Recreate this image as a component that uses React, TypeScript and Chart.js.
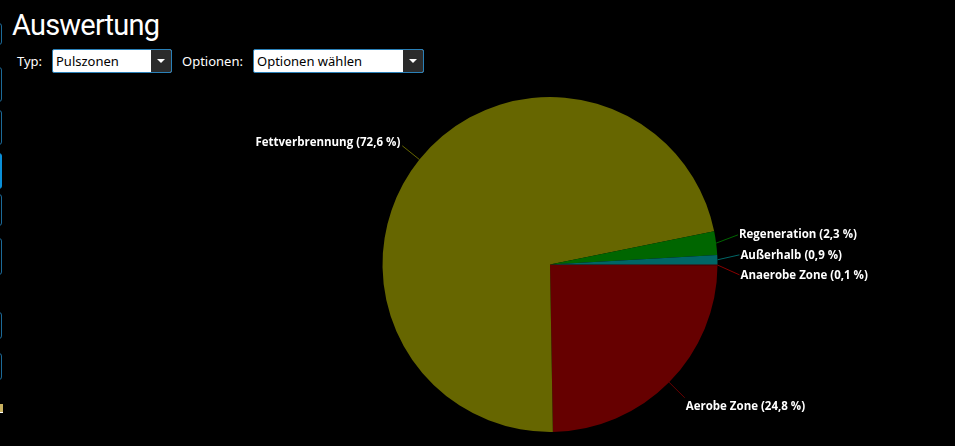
import React, { useEffect, useRef } from "react";
import { Chart, registerables } from "chart.js";

Chart.register(...registerables);

const zoneLabels = ["Anaerobe Zone", "Aerobe Zone", "Fettverbrennung", "Regeneration", "Außerhalb"];
const zoneValues = [0.1, 24.8, 72.6, 2.3, 0.9];
const zoneColors = ["#880000", "#660000", "#666600", "#006600", "#006666"];
const sideButtons = [
  { top: 23, h: 20, active: false },
  { top: 67, h: 33, active: false },
  { top: 110, h: 33, active: false },
  { top: 153, h: 34, active: true },
  { top: 194, h: 30, active: false },
  { top: 238, h: 35, active: false },
  { top: 312, h: 25, active: false },
  { top: 353, h: 25, active: false },
];

const fmt = (v: number) => v.toFixed(1).replace(".", ",") + " %";

const labelPlugin = {
  id: "pieLabels",
  afterDatasetsDraw(chart: any) {
    const ctx = chart.ctx;
    const meta = chart.getDatasetMeta(0);
    const items: any[] = [];
    meta.data.forEach((arc: any, i: number) => {
      const p = arc.getProps(["x", "y", "startAngle", "endAngle", "outerRadius"], true);
      const mid = (p.startAngle + p.endAngle) / 2;
      const c = Math.cos(mid), s = Math.sin(mid);
      const ex = p.x + p.outerRadius * c, ey = p.y + p.outerRadius * s;
      const r2 = p.outerRadius + 22;
      items.push({
        i, c, s, ex, ey,
        ax: p.x + r2 * c,
        ay: p.y + r2 * s,
        right: c >= 0,
      });
    });
    [true, false].forEach((side) => {
      const group = items.filter((it) => it.right === side).sort((a, b) => a.ay - b.ay);
      for (let k = 0; k < 200; k++) {
        for (let j = 0; j < group.length - 1; j++) {
          const gap = group[j + 1].ay - group[j].ay;
          if (gap < 20) {
            const d = (20 - gap) / 2;
            group[j].ay -= d;
            group[j + 1].ay += d;
          }
        }
      }
    });
    ctx.save();
    ctx.font = "bold 11.5px 'Open Sans'";
    ctx.textBaseline = "middle";
    items.forEach((it) => {
      ctx.strokeStyle = zoneColors[it.i];
      ctx.lineWidth = 1;
      ctx.beginPath();
      ctx.moveTo(it.ex, it.ey);
      ctx.lineTo(it.ax, it.ay);
      ctx.stroke();
      ctx.fillStyle = "#ffffff";
      const txt = `${zoneLabels[it.i]} (${fmt(zoneValues[it.i])})`;
      const dy = 1 + 12 * Math.max(0, it.s) + 6 * Math.min(0, it.s);
      if (it.right) {
        ctx.textAlign = "left";
        ctx.fillText(txt, it.ax + 1, it.ay + dy);
      } else {
        ctx.textAlign = "right";
        ctx.fillText(txt, it.ax - 2, it.ay + dy);
      }
    });
    ctx.restore();
  },
};

function Dropdown({ left, width, text }: { left: number; width: number; text: string }) {
  return (
    <div
      style={{
        position: "absolute",
        left,
        top: 49,
        width: width - 2,
        height: 22,
        border: "1px solid #2a80b8",
        borderRadius: 2,
        background: "#ffffff",
        overflow: "hidden",
      }}
    >
      <div
        style={{
          position: "absolute",
          left: 3,
          top: 0,
          lineHeight: "22px",
          fontSize: 13,
          color: "#000",
          fontFamily: "'Noto Sans', 'Open Sans', sans-serif",
        }}
      >
        {text}
      </div>
      <div
        style={{
          position: "absolute",
          right: 0,
          top: 0,
          width: 20,
          height: 22,
          background: "#2b2b2b",
        }}
      >
        <div
          style={{
            position: "absolute",
            left: 6,
            top: 9,
            width: 0,
            height: 0,
            borderLeft: "4px solid transparent",
            borderRight: "4px solid transparent",
            borderTop: "4px solid #ffffff",
          }}
        />
      </div>
    </div>
  );
}

export default function App() {
  const ref = useRef<HTMLCanvasElement>(null);
  useEffect(() => {
    if (!ref.current) return;
    const chart = new Chart(ref.current, {
      type: "pie",
      data: {
        labels: zoneLabels,
        datasets: [
          {
            data: zoneValues,
            backgroundColor: zoneColors,
            borderWidth: 0,
          },
        ],
      },
      options: {
        animation: false,
        responsive: false,
        rotation: 90,
        layout: { padding: { left: 300, right: 155, top: 97, bottom: 14 } },
        plugins: {
          legend: { display: false },
          tooltip: { enabled: false },
        },
      },
      plugins: [labelPlugin],
    });
    return () => chart.destroy();
  }, []);

  const labelStyle: React.CSSProperties = {
    position: "absolute",
    top: 49,
    lineHeight: "24px",
    fontSize: 13,
    color: "#ffffff",
    fontFamily: "'Noto Sans', 'Open Sans', sans-serif",
  };

  return (
    <div
      style={{
        position: "fixed",
        left: 0,
        top: 0,
        width: 955,
        height: 446,
        background: "#000000",
        overflow: "hidden",
      }}
    >
      {sideButtons.map((b, i) => (
        <div
          key={i}
          style={{
            position: "absolute",
            left: -20,
            top: b.top,
            width: 20,
            height: b.h,
            border: b.active ? "1px solid #0a8fd8" : "1px solid #1c6a98",
            borderRadius: 3,
            background: b.active ? "#0a8fd8" : "transparent",
          }}
        />
      ))}
      <div
        style={{
          position: "absolute",
          left: 0,
          top: 404,
          width: 3,
          height: 8,
          borderBottom: "1px solid #ffffff",
          background: "#c8b060",
        }}
      />
      <div
        style={{
          position: "absolute",
          left: 12,
          top: 4,
          fontSize: 29,
          lineHeight: "42px",
          letterSpacing: "-0.8px",
          color: "#ffffff",
          fontFamily: "Roboto, 'Open Sans', sans-serif",
        }}
      >
        Auswertung
      </div>
      <div style={{ ...labelStyle, left: 17 }}>Typ:</div>
      <Dropdown left={52} width={120} text="Pulszonen" />
      <div style={{ ...labelStyle, left: 182 }}>Optionen:</div>
      <Dropdown left={253} width={171} text="Optionen wählen" />
      <canvas
        ref={ref}
        width={955}
        height={446}
        style={{ position: "absolute", left: 0, top: 0, width: 955, height: 446 }}
      />
    </div>
  );
}
